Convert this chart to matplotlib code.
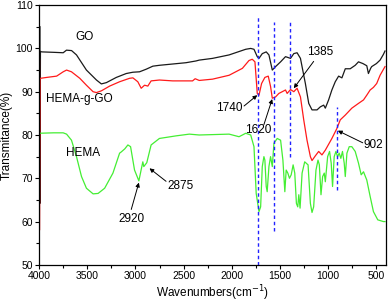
import matplotlib
matplotlib.use("Agg")
import matplotlib.pyplot as plt
from matplotlib.ticker import MultipleLocator

plt.rcParams['font.family'] = ['Liberation Sans', 'DejaVu Sans']

# GO (black)
go_x = [3990, 3990, 3985, 3972, 3850, 3749, 3715, 3662, 3611, 3508, 3404, 3353, 3301, 3198, 3095, 3026,
        2957, 2888, 2819, 2751, 2613, 2475, 2372, 2338, 2200, 2028, 1856, 1804, 1770,
        1736, 1718, 1684, 1643, 1615, 1580, 1546, 1494, 1443, 1391, 1357, 1323, 1288,
        1237, 1202, 1168, 1116, 1082, 1047, 1030, 996, 962, 927, 892, 858, 823, 772,
        720, 686, 640, 600, 583, 560, 549, 500, 462, 428, 411]
go_y = [105.0, 64.2, 99.3, 99.2, 99.1, 99.0, 99.6, 99.5, 98.5, 95.0, 92.7, 91.8, 92.1, 93.3, 94.2, 94.5,
        94.6, 95.2, 95.9, 96.1, 96.4, 96.7, 97.1, 97.3, 97.7, 98.5, 99.8, 100.0, 99.8,
        98.1, 97.7, 98.8, 99.2, 98.5, 95.0, 95.8, 96.9, 98.1, 97.7, 98.8, 99.0, 97.7,
        91.9, 87.3, 85.8, 85.8, 86.5, 86.9, 86.2, 88.1, 90.4, 92.3, 93.6, 93.2, 95.3, 95.3,
        96.1, 96.9, 96.5, 96.0, 94.2, 95.4, 95.8, 96.5, 97.3, 98.6, 99.4]

# HEMA-g-GO (red)
hg_x = [3995, 3995, 3990, 3983, 3921, 3817, 3749, 3714, 3663, 3577, 3508, 3439, 3404, 3353, 3267,
        3164, 3060, 3026, 2975, 2940, 2905, 2871, 2837, 2751, 2613, 2407, 2380, 2338,
        2200, 2028, 1890, 1822, 1788, 1760, 1736, 1718, 1691, 1657, 1622, 1598, 1580,
        1546, 1512, 1477, 1443, 1426, 1391, 1357, 1323, 1288, 1254, 1220, 1185, 1168,
        1133, 1099, 1065, 1030, 962, 910, 875, 823, 755, 686, 634, 600, 565, 531,
        497, 462, 411]
hg_y = [97.5, 58.0, 93.0, 93.1, 93.3, 93.6, 94.6, 95.0, 94.6, 93.1, 91.5, 90.0, 89.8, 90.2, 91.3,
        92.3, 93.1, 93.2, 92.3, 90.8, 91.5, 91.3, 92.5, 92.7, 92.5, 92.5, 93.0, 92.6,
        92.9, 93.8, 95.4, 97.2, 97.5, 96.9, 89.6, 89.2, 91.9, 93.3, 93.6, 91.2, 88.5,
        88.8, 89.6, 90.0, 90.4, 89.6, 90.5, 90.0, 90.8, 88.8, 83.5, 78.8, 75.0, 74.1,
        75.2, 76.2, 75.4, 76.5, 79.2, 81.5, 83.5, 84.6, 86.2, 87.3, 88.1, 89.2, 90.4, 91.0,
        91.9, 93.8, 95.8]

# HEMA (green)
he_x = [4000, 3850, 3749, 3714, 3663, 3611, 3559, 3508, 3439, 3387, 3319, 3233, 3164, 3146,
        3110, 3078, 3050, 3009, 2964, 2940, 2923, 2913, 2882, 2837, 2751, 2578, 2441,
        2338, 2028, 1925, 1890, 1856, 1804, 1770, 1747, 1718, 1701, 1684, 1667, 1657,
        1643, 1633, 1615, 1598, 1580, 1563, 1529, 1494, 1470, 1450, 1436, 1419, 1402,
        1384, 1364, 1347, 1330, 1316, 1305, 1292, 1271, 1244, 1209, 1185, 1168, 1151,
        1127, 1106, 1092, 1075, 1058, 1041, 1030, 1006, 986, 969, 955, 938, 920, 903,
        886, 869, 852, 834, 823, 806, 782, 755, 720, 686, 658, 634, 600, 565, 531,
        486, 428, 411]
he_y = [80.4, 80.5, 80.5, 80.2, 78.8, 75.0, 70.4, 67.7, 66.4, 66.5, 67.7, 71.2, 75.8, 76.1,
        76.8, 77.7, 77.3, 71.9, 69.4, 72.0, 73.8, 72.7, 73.6, 77.7, 79.2, 79.8, 80.2,
        80.0, 80.2, 79.6, 80.0, 80.4, 80.0, 77.3, 66.5, 62.3, 63.4, 72.7, 75.0, 74.2,
        68.1, 66.9, 72.7, 75.0, 72.7, 78.1, 79.2, 78.8, 74.2, 66.9, 71.9, 71.2, 70.0,
        70.8, 73.1, 71.2, 64.2, 63.4, 66.2, 63.1, 71.2, 73.8, 73.1, 64.2, 62.1, 63.4,
        71.9, 74.2, 73.1, 66.2, 70.4, 71.2, 69.2, 75.0, 76.2, 73.5, 68.1, 75.0, 76.2, 75.0,
        75.8, 74.6, 76.2, 73.5, 70.4, 75.8, 77.3, 77.3, 76.2, 73.5, 70.8, 71.5, 69.6, 65.8, 62.3,
        60.4, 60.0, 60.0]

# dashed guide lines: position, bottom, top
guide_x = [1726, 1566, 1398, 913]
guide_lo = [50.0, 57.8, 75.0, 67.2]
guide_hi = [107.3, 106.2, 106.0, 86.5]

# annotations: label, text position, arrow tail, arrow tip
ann_labels = ['2920', '2875', '1740', '1620', '1385', '902']
ann_text = [(3043, 60.5), (2527, 68.2), (2028, 86.2), (1729, 81.2), (1082, 99.2), (531, 77.7)]
ann_tail = [(3043, 62.8), (2682, 69.3), (1873, 86.7), (1667, 82.4), (1151, 97.0), (642, 78.2)]
ann_tip = [(2964, 69.0), (2854, 72.3), (1736, 89.2), (1581, 88.3), (1357, 90.8), (900, 81.0)]

series_labels = ['GO', 'HEMA-g-GO', 'HEMA']
series_label_pos = [(3524, 102.7), (3577, 88.3), (3543, 75.8)]

fig = plt.figure(figsize=(3.88, 3.02), dpi=100)
ax = fig.add_axes([0.1005, 0.123, 0.8945, 0.860])

ax.plot(go_x, go_y, color='#1a1a1a', lw=0.9)
ax.plot(hg_x, hg_y, color='#ff1a1a', lw=0.9)
ax.plot(he_x, he_y, color='#44ee33', lw=0.9)

for gx, lo, hi in zip(guide_x, guide_lo, guide_hi):
    ax.plot([gx, gx], [lo, hi], color='#2222ff', lw=1.0, ls=(0, (2.5, 2.0)))

for lab, (tx, ty) in zip(series_labels, series_label_pos):
    ax.text(tx, ty, lab, fontsize=8.5, ha='center', va='center')

for lab, tp, tl, tip in zip(ann_labels, ann_text, ann_tail, ann_tip):
    ax.text(tp[0], tp[1], lab, fontsize=8.5, ha='center', va='center')
    ax.annotate('', xy=tip, xytext=tl,
                arrowprops=dict(arrowstyle='-|>', color='black', lw=0.7,
                                mutation_scale=6, shrinkA=0, shrinkB=0))

ax.set_xlim(4000, 400)
ax.set_ylim(50, 110)
ax.xaxis.set_major_locator(MultipleLocator(500))
ax.xaxis.set_minor_locator(MultipleLocator(250))
ax.yaxis.set_major_locator(MultipleLocator(10))
ax.yaxis.set_minor_locator(MultipleLocator(5))
ax.tick_params(which='major', direction='out', length=3, width=0.8, labelsize=7.5, pad=1.5)
ax.tick_params(which='minor', direction='out', length=2, width=0.8)
for s in ax.spines.values():
    s.set_linewidth(0.9)

ax.set_xlabel('Wavenumbers(cm$^{-1}$)', fontsize=8.5, labelpad=2)
ax.set_ylabel('Transmitance(%)', fontsize=8.5, labelpad=2)

fig.savefig('out.png', dpi=100)
